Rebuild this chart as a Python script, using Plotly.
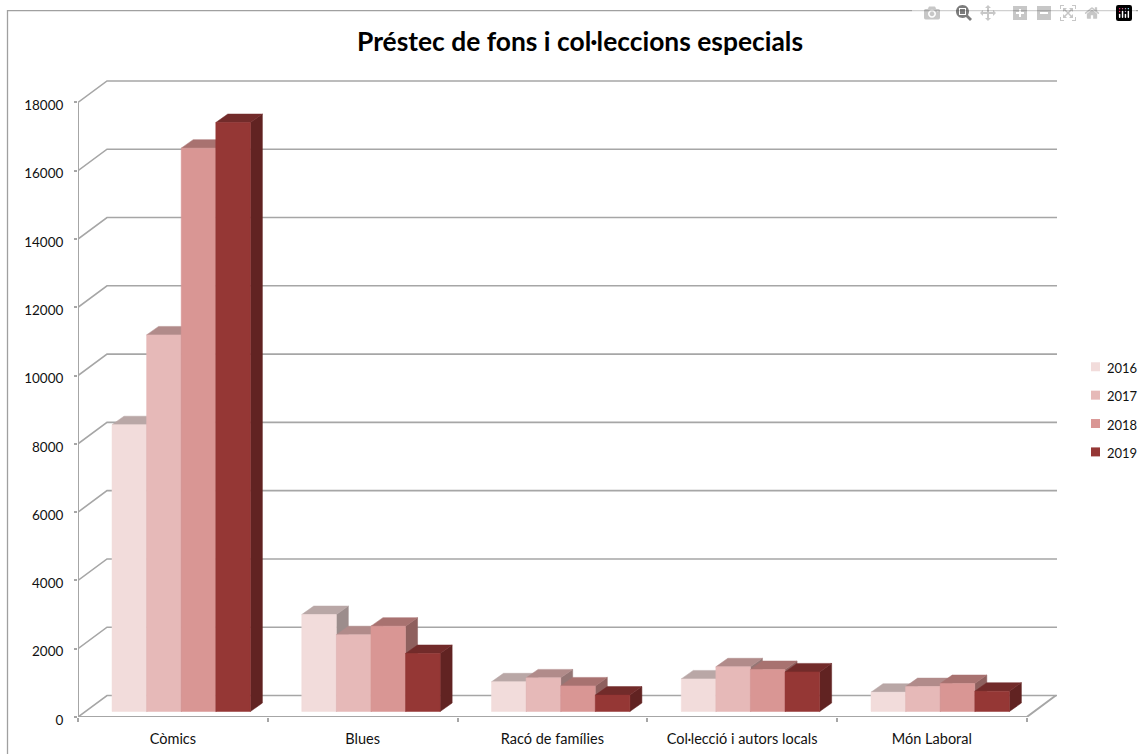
import plotly.graph_objects as go

categories = ["Còmics", "Blues", "Racó de famílies", "Col·lecció i autors locals", "Món Laboral"]
years = ["2016", "2017", "2018", "2019"]
v2016 = [8400, 2840, 870, 955, 565]
v2017 = [11030, 2250, 985, 1310, 730]
v2018 = [16500, 2500, 750, 1230, 820]
v2019 = [17250, 1700, 480, 1160, 595]
series = [v2016, v2017, v2018, v2019]
y_ticks = list(range(0, 20000, 2000))

front_colors = ["#f2dcdb", "#e6b9b8", "#d99694", "#953735"]
top_colors = ["#b9a7a6", "#b18b8a", "#a87270", "#722b2a"]
side_colors = ["#9c8d8c", "#957675", "#8e605e", "#612322"]
grid_color = "#a6a6a6"

fig_w, fig_h = 1138, 754
left, right, top, bottom = 78, 1057, 78, 717.5
px_per_cat = 189.75
px_per_unit = 34.17 / 1000

# sizes in axis units
wall_dx, wall_dv = 29 / px_per_cat, 21.5 / px_per_unit
bar_dx, bar_dv = 12 / px_per_cat, 8.5 / px_per_unit
bar_w = 34.6 / px_per_cat
bar_start = 34 / px_per_cat
bar_base = 5.5 / px_per_unit
x_max = (right - left) / px_per_cat
y_max = (bottom - top) / px_per_unit
floor_end = len(categories)


def paper_x(px):
    return (px - left) / (right - left)


def paper_y(px):
    return (bottom - px) / (bottom - top)


fig = go.Figure()


def line(xs, ys, width=1.6):
    fig.add_trace(go.Scatter(x=xs, y=ys, mode="lines", showlegend=False, hoverinfo="skip",
                             cliponaxis=False, line=dict(color=grid_color, width=width)))


def face(xs, ys, color):
    fig.add_trace(go.Scatter(x=xs, y=ys, mode="lines", fill="toself", fillcolor=color, showlegend=False,
                             hoverinfo="skip", line=dict(color=color, width=0.5)))


# walls
gx, gy = [], []
for t in y_ticks:
    gx += [0, wall_dx, x_max, None]
    gy += [t, t + wall_dv, t + wall_dv, None]
line(gx, gy)
line([0, 0], [0, y_ticks[-1]], 2)
line([0, floor_end, floor_end + wall_dx], [0, 0, wall_dv], 2)

# bars, left to right so that each one hides the side of the previous one
for c in range(len(categories)):
    for s, vals in enumerate(series):
        x0 = c + bar_start + s * bar_w
        x1 = x0 + bar_w
        y0 = bar_base
        y1 = bar_base + vals[c]
        face([x1, x1 + bar_dx, x1 + bar_dx, x1, x1], [y0, y0 + bar_dv, y1 + bar_dv, y1, y0], side_colors[s])
        face([x0, x0 + bar_dx, x1 + bar_dx, x1, x0], [y1, y1 + bar_dv, y1 + bar_dv, y1, y1], top_colors[s])
        face([x0, x1, x1, x0, x0], [y0, y0, y1, y1, y0], front_colors[s])

# chart frame, runs off the right and bottom of the picture
shapes = [dict(type="rect", xref="paper", yref="paper", layer="below",
               x0=paper_x(7.5), x1=paper_x(1160), y0=paper_y(780), y1=paper_y(10.5),
               line=dict(color="#a0a0a0", width=1.3))]

# legend drawn by hand: plotly's own keeps the text too far from the swatch
annotations = []
for s, year in enumerate(years):
    cy = 367 + s * 28.4
    shapes.append(dict(type="rect", xref="paper", yref="paper", line=dict(width=0),
                       fillcolor=front_colors[s], x0=paper_x(1091), x1=paper_x(1100),
                       y0=paper_y(cy + 4.5), y1=paper_y(cy - 4.5)))
    annotations.append(dict(text=year, xref="paper", yref="paper", x=paper_x(1104.5), y=paper_y(cy + 1),
                            xanchor="left", yanchor="middle", showarrow=False,
                            font=dict(family="Lato", size=13, color="#111111")))

font = dict(family="Lato", size=13.5, color="#111111")
fig.update_layout(
    width=fig_w, height=fig_h, showlegend=False,
    margin=dict(l=left, r=fig_w - right, t=top, b=fig_h - bottom, autoexpand=False),
    paper_bgcolor="white", plot_bgcolor="white",
    font=font,
    title=dict(text="<b>Préstec de fons i col·leccions especials</b>", xref="container", yref="container",
               x=580 / fig_w, y=1 - 42 / fig_h, xanchor="center", yanchor="middle",
               font=dict(family="Lato", size=26.4, color="black")),
    xaxis=dict(range=[0, x_max], showgrid=False, zeroline=False, showline=False,
               tickmode="array", tickvals=[i + 0.5 for i in range(len(categories))], ticktext=categories,
               ticks="", ticklabelstandoff=11, tickfont=dict(size=14.5),
               minor=dict(tickmode="array", tickvals=list(range(len(categories) + 1)), ticks="outside",
                          ticklen=4, tickcolor=grid_color, tickwidth=1.5, showgrid=False)),
    yaxis=dict(range=[0, y_max], showgrid=False, zeroline=False, showline=False,
               tickmode="array", tickvals=y_ticks, tickformat="d", ticks="outside", ticklen=3,
               tickcolor=grid_color, tickwidth=1.5, ticklabelstandoff=8, ticklabelshift=3),
    shapes=shapes,
    annotations=annotations,
)

# the browser's default 8px body margin would push the figure off the window
fig.write_html("out.html", post_script="document.body.style.margin = '0'; document.documentElement.style.overflow = 'hidden';")
